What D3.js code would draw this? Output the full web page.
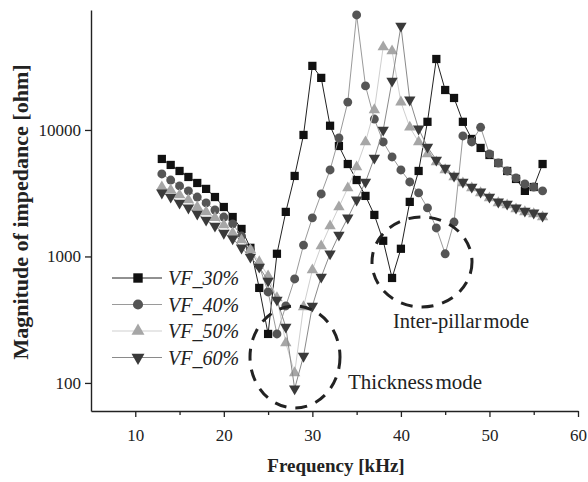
<!DOCTYPE html>
<html>
<head>
<meta charset="utf-8">
<script src="https://cdn.jsdelivr.net/npm/d3@7"></script>
<style>
  body { margin: 0; background: #fff; }
  svg { font-family: "Liberation Serif", "Times New Roman", serif; }
</style>
</head>
<body>
<div id="chart"></div>
<script>
// frequency points [kHz]
var freq = [13,14,15,16,17,18,19,20,21,22,23,24,25,26,27,28,29,30,31,32,33,34,
            35,36,37,38,39,40,41,42,43,44,45,46,47,48,49,50,51,52,53,54,55,56];

// magnitude of impedance [ohm]
var vf30 = [5900,5290,4740,4250,3810,3420,2950,2460,2050,1650,1170,564,244,1050,2250,4330,9130,32100,25800,10800,7470,5380,
            4020,3010,2130,1330,676,1150,2700,4740,11600,36400,20700,17900,11600,8490,7210,6340,5480,4740,4100,3300,3540,5380];
var vf40 = [4490,4020,3610,3300,2950,2650,2330,2050,1810,1450,1130,841,524,244,406,664,1230,2020,3120,4830,8640,16600,
            81100,22300,12200,8040,6120,4830,3880,3180,2420,1680,1050,1870,8970,8040,10500,6460,5480,4740,4170,3740,3540,3300];
var vf50 = [3540,3350,3060,2800,2460,2250,2020,1770,1530,1350,1130,905,701,470,207,120,399,782,1210,1740,2460,3480,
            5100,8040,14400,45300,42100,16600,10500,8040,6460,5580,4830,4250,3810,3480,3180,2900,2650,2550,2370,2250,2170,2050];
var vf60 = [3180,2950,2650,2420,2170,1940,1740,1530,1380,1170,991,826,640,453,277,90,163,406,688,1050,1480,2020,
            2800,3880,6010,10000,24400,66400,17300,10200,7340,5790,5010,4330,3880,3540,3240,2950,2700,2600,2420,2290,2210,2090];

var seriesNames = ["VF_30%", "VF_40%", "VF_50%", "VF_60%"];
var xTicks = [10, 20, 30, 40, 50, 60];
var xMinor = [15, 25, 35, 45, 55];
var yTicks = [100, 1000, 10000];

var width = 588, height = 482;

var svg = d3.select("#chart").append("svg")
    .attr("width", width)
    .attr("height", height);

var x = d3.scaleLinear().domain([5, 60]).range([91, 578]);
var y = d3.scaleLog().domain([60, 88800]).range([411, 10]);

// series styles
var styles = [
    { sym: d3.symbolSquare,   size: 68, rot: 0,   fill: "#111", line: "#222" },
    { sym: d3.symbolCircle,   size: 62, rot: 0,   fill: "#555", line: "#9a9a9a" },
    { sym: d3.symbolTriangle, size: 56, rot: 0,   fill: "#a6a6a6", line: "#cfcfcf" },
    { sym: d3.symbolTriangle, size: 56, rot: 180, fill: "#3a3a3a", line: "#8a8a8a" }
];
var allSeries = [vf30, vf40, vf50, vf60];

var line = d3.line()
    .x(function (d) { return x(d[0]); })
    .y(function (d) { return y(d[1]); });

allSeries.forEach(function (vals, i) {
    var st = styles[i];
    var pts = freq.map(function (f, j) { return [f, vals[j]]; });
    var g = svg.append("g");
    g.append("path")
        .datum(pts)
        .attr("d", line)
        .attr("fill", "none")
        .attr("stroke", st.line)
        .attr("stroke-width", 1);
    g.selectAll("path.m")
        .data(pts)
        .enter().append("path")
        .attr("class", "m")
        .attr("d", d3.symbol().type(st.sym).size(st.size))
        .attr("transform", function (d) {
            return "translate(" + x(d[0]) + "," + y(d[1]) + ") rotate(" + st.rot + ")";
        })
        .attr("fill", st.fill);
});

// axes
svg.append("g")
    .attr("transform", "translate(0,411)")
    .call(d3.axisBottom(x).tickValues(xTicks).tickSize(6).tickSizeOuter(0).tickPadding(12)
        .tickFormat(d3.format("d")));
svg.append("g")
    .attr("transform", "translate(0,411)")
    .call(d3.axisBottom(x).tickValues(xMinor).tickSize(4).tickFormat(""))
    .select(".domain").remove();

svg.append("g")
    .attr("transform", "translate(91,0)")
    .call(d3.axisLeft(y).tickValues(yTicks).tickSize(6).tickSizeOuter(0).tickPadding(4)
        .tickFormat(d3.format("d")));

svg.selectAll(".domain").attr("stroke", "#222").attr("stroke-width", 1.4);
svg.selectAll(".tick line").attr("stroke", "#222").attr("stroke-width", 1.3);
svg.selectAll(".tick text")
    .attr("font-family", "Liberation Serif, serif")
    .attr("font-size", 17)
    .attr("fill", "#222");

// axis titles
svg.append("text")
    .attr("x", 336).attr("y", 472)
    .attr("text-anchor", "middle")
    .attr("font-weight", "bold")
    .attr("font-size", 19)
    .attr("fill", "#222")
    .text("Frequency [kHz]");

svg.append("text")
    .attr("transform", "translate(28,212) rotate(-90)")
    .attr("text-anchor", "middle")
    .attr("font-weight", "bold")
    .attr("font-size", 22)
    .attr("fill", "#222")
    .text("Magnitude of impedance [ohm]");

// legend
var legend = svg.append("g");
seriesNames.forEach(function (name, i) {
    var st = styles[i];
    var ly = 278 + i * 26.5;
    legend.append("line")
        .attr("x1", 112).attr("x2", 162)
        .attr("y1", ly).attr("y2", ly)
        .attr("stroke", st.line).attr("stroke-width", 1);
    legend.append("path")
        .attr("d", d3.symbol().type(st.sym).size(st.size * 1.3))
        .attr("transform", "translate(138," + ly + ") rotate(" + st.rot + ")")
        .attr("fill", st.fill);
    legend.append("text")
        .attr("x", 168).attr("y", ly + 7)
        .attr("font-style", "italic")
        .attr("font-size", 20)
        .attr("fill", "#222")
        .text(name);
});

// mode annotations
svg.append("ellipse")
    .attr("cx", 295).attr("cy", 357).attr("rx", 45).attr("ry", 51)
    .attr("fill", "none").attr("stroke", "#222").attr("stroke-width", 3)
    .attr("stroke-dasharray", "12,9");
svg.append("ellipse")
    .attr("cx", 422).attr("cy", 262).attr("rx", 50).attr("ry", 45)
    .attr("fill", "none").attr("stroke", "#222").attr("stroke-width", 3)
    .attr("stroke-dasharray", "12,9");

svg.append("text")
    .attr("x", 348).attr("y", 389)
    .attr("font-size", 21)
    .attr("word-spacing", -3)
    .attr("fill", "#222")
    .text("Thickness mode");
svg.append("text")
    .attr("x", 393).attr("y", 328)
    .attr("font-size", 20.5)
    .attr("word-spacing", -3)
    .attr("fill", "#222")
    .text("Inter-pillar mode");
</script>
</body>
</html>
